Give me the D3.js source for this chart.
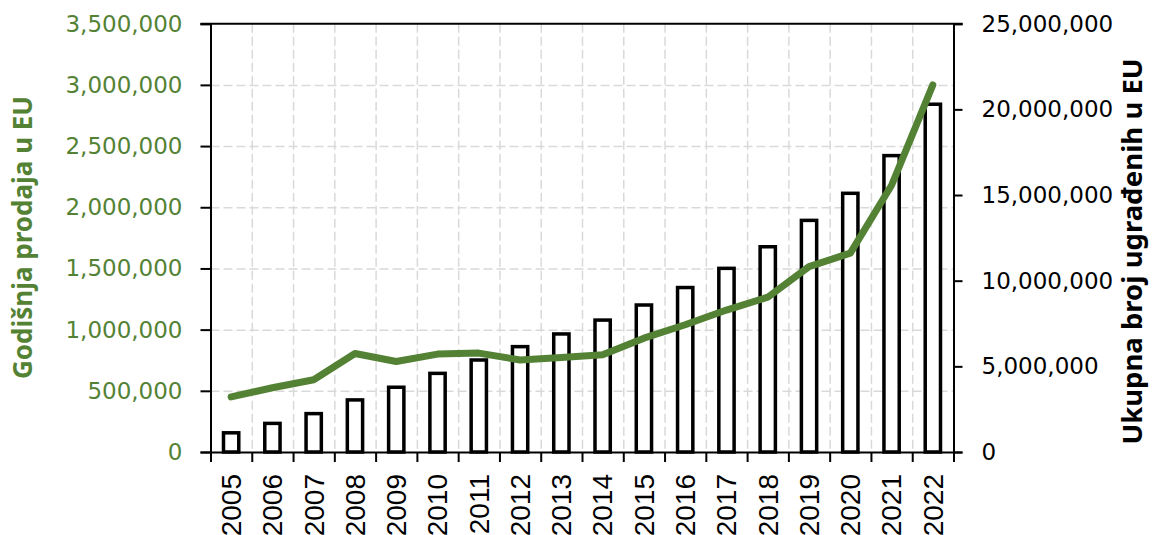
<!DOCTYPE html>
<html>
<head>
<meta charset="utf-8">
<script src="https://cdn.jsdelivr.net/npm/d3@7"></script>
<style>
  body { margin: 0; background: #fff; }
</style>
</head>
<body>
<script>
// Chart data
const years = ["2005", "2006", "2007", "2008", "2009", "2010", "2011", "2012", "2013",
               "2014", "2015", "2016", "2017", "2018", "2019", "2020", "2021", "2022"];
const annualSales = [450000, 525000, 590000, 805000, 740000, 800000, 808000, 752000, 772000,
                     795000, 930000, 1040000, 1160000, 1265000, 1515000, 1625000, 2180000, 3000000];
const totalInstalled = [1120000, 1670000, 2240000, 3040000, 3780000, 4590000, 5370000, 6150000, 6890000,
                        7700000, 8580000, 9600000, 10720000, 11980000, 13520000, 15100000, 17300000, 20300000];
const leftTicks = [0, 500000, 1000000, 1500000, 2000000, 2500000, 3000000, 3500000];
const rightTicks = [0, 5000000, 10000000, 15000000, 20000000, 25000000];
const leftTitle = "Godišnja prodaja u EU";
const rightTitle = "Ukupna broj ugrađenih u EU";

function renderChart() {
    const width = 1155;
    const height = 535;
    const marginLeft = 210.5;
    const marginRight = width - 953.5;
    const marginTop = 23.7;
    const marginBottom = height - 452;
    const green = "#548235";

    const svg = d3.select("body").append("svg")
        .attr("width", width)
        .attr("height", height)
        .attr("viewBox", [0, 0, width, height]);

    // Scales
    const x = d3.scaleBand()
        .domain(years)
        .range([marginLeft, width - marginRight])
        .padding(0);

    // index scale for band boundaries (ticks and vertical grid)
    const xi = d3.scaleLinear()
        .domain([0, years.length])
        .range([marginLeft, width - marginRight]);

    const yLeft = d3.scaleLinear()
        .domain([0, 3500000])
        .range([height - marginBottom, marginTop]);

    const yRight = d3.scaleLinear()
        .domain([0, 25000000])
        .range([height - marginBottom, marginTop]);

    // Horizontal grid
    svg.append("g")
        .attr("transform", `translate(${marginLeft},0)`)
        .call(d3.axisLeft(yLeft).tickValues(leftTicks.slice(1, -1)).tickSize(-(width - marginLeft - marginRight)).tickFormat(""))
        .call(g => g.select(".domain").remove())
        .call(g => g.selectAll(".tick line")
            .attr("stroke", "#d9d9d9")
            .attr("stroke-width", 1.5)
            .attr("stroke-dasharray", "9,4"));

    // Vertical grid
    svg.append("g")
        .attr("transform", `translate(0,${marginTop})`)
        .call(d3.axisBottom(xi).tickValues(d3.range(1, years.length)).tickSize(height - marginBottom - marginTop).tickFormat(""))
        .call(g => g.select(".domain").remove())
        .call(g => g.selectAll(".tick line")
            .attr("stroke", "#d9d9d9")
            .attr("stroke-width", 1.5)
            .attr("stroke-dasharray", "9,4"));

    // Bars (right axis)
    const barW = x.bandwidth() * 0.37;
    svg.append("g")
        .selectAll("rect")
        .data(totalInstalled)
        .join("rect")
        .attr("x", (d, i) => x(years[i]) + x.bandwidth() / 2 - barW / 2)
        .attr("y", d => yRight(d))
        .attr("width", barW)
        .attr("height", d => yRight(0) - yRight(d))
        .attr("fill", "#fff")
        .attr("stroke", "#000")
        .attr("stroke-width", 3.5);

    // Top border line
    svg.append("line")
        .attr("x1", marginLeft - 10)
        .attr("x2", width - marginRight + 9)
        .attr("y1", marginTop)
        .attr("y2", marginTop)
        .attr("stroke", "#000")
        .attr("stroke-width", 2);

    // X axis: tick marks at band boundaries
    svg.append("g")
        .attr("transform", `translate(0,${height - marginBottom})`)
        .call(d3.axisBottom(xi).tickValues(d3.range(0, years.length + 1)).tickSize(10).tickFormat(""))
        .call(g => g.select(".domain").attr("stroke-width", 2))
        .call(g => g.selectAll(".tick line").attr("stroke-width", 2));

    // X axis labels
    svg.append("g")
        .selectAll("text")
        .data(years)
        .join("text")
        .attr("transform", d => `translate(${x(d) + x.bandwidth() / 2},474) rotate(-90)`)
        .attr("dy", "0.35em")
        .attr("text-anchor", "end")
        .attr("font-family", "Liberation Sans, Arial, sans-serif")
        .attr("font-size", 28)
        .attr("fill", "#000")
        .text(d => d);

    // Left axis
    svg.append("g")
        .attr("transform", `translate(${marginLeft},0)`)
        .call(d3.axisLeft(yLeft).tickValues(leftTicks).tickSize(10).tickPadding(18).tickFormat(d3.format(",")))
        .call(g => g.select(".domain").attr("stroke-width", 2))
        .call(g => g.selectAll(".tick line").attr("stroke-width", 2))
        .call(g => g.selectAll(".tick text")
            .attr("fill", green)
            .attr("font-family", "DejaVu Sans, sans-serif")
            .attr("font-size", 23));

    // Right axis
    svg.append("g")
        .attr("transform", `translate(${width - marginRight},0)`)
        .call(d3.axisRight(yRight).tickValues(rightTicks).tickSize(9).tickPadding(19).tickFormat(d3.format(",")))
        .call(g => g.select(".domain").attr("stroke-width", 2))
        .call(g => g.selectAll(".tick line").attr("stroke-width", 2))
        .call(g => g.selectAll(".tick text")
            .attr("fill", "#000")
            .attr("font-family", "DejaVu Sans, sans-serif")
            .attr("font-size", 23));

    // Line (left axis)
    const line = d3.line()
        .x((d, i) => x(years[i]) + x.bandwidth() / 2)
        .y(d => yLeft(d));

    svg.append("path")
        .datum(annualSales)
        .attr("fill", "none")
        .attr("stroke", green)
        .attr("stroke-width", 7)
        .attr("stroke-linejoin", "round")
        .attr("stroke-linecap", "round")
        .attr("d", line);

    // Axis titles
    svg.append("text")
        .attr("transform", `translate(32,237.5) rotate(-90)`)
        .attr("text-anchor", "middle")
        .attr("font-family", "Noto Sans, sans-serif")
        .attr("font-weight", "bold")
        .attr("font-size", 26)
        .attr("fill", green)
        .text(leftTitle);

    svg.append("text")
        .attr("transform", `translate(1142,251.5) rotate(-90)`)
        .attr("text-anchor", "middle")
        .attr("font-family", "Noto Sans, sans-serif")
        .attr("font-weight", "bold")
        .attr("font-size", 27.5)
        .attr("fill", "#000")
        .text(rightTitle);
}

renderChart();
</script>
</body>
</html>
